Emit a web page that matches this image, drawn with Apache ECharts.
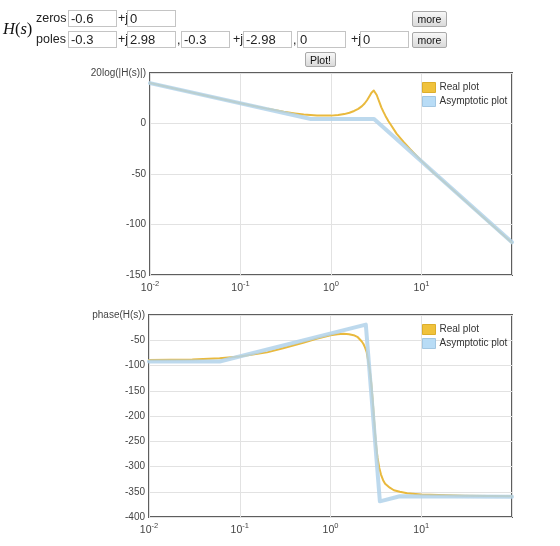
<!DOCTYPE html>
<html><head><meta charset="utf-8">
<script src="https://cdn.jsdelivr.net/npm/echarts@6/dist/echarts.min.js"></script>
<style>
html,body{margin:0;padding:0;background:#fff;width:560px;height:546px;overflow:hidden;font-family:"Liberation Sans",Arial,sans-serif;}
#c{position:absolute;left:0;top:0;width:560px;height:546px;}
.f{position:absolute;z-index:2;}
.lbl{font-size:12.5px;color:#222;line-height:14px;white-space:nowrap;}
input.f{box-sizing:border-box;height:17px;width:49px;border:1px solid #c4c4c4;padding:0 2px;font:13px "Liberation Sans",Arial,sans-serif;color:#222;background:#fff;margin:0;outline:none;}
button.f{box-sizing:border-box;height:16px;border:1px solid #a8a8a8;border-radius:2px;background:linear-gradient(#f7f7f7,#dadada);font:10.5px "Liberation Sans",Arial,sans-serif;color:#111;padding:0;margin:0;}
.hs{font-family:"Liberation Serif","DejaVu Serif",serif;font-size:16.5px;color:#111;line-height:18px;}
</style></head>
<body>
<div class="f hs" style="left:3px;top:20px;"><i>H</i>(<i>s</i>)</div>
<div class="f lbl" style="left:36px;top:11px;">zeros</div>
<div class="f lbl" style="left:36px;top:32px;">poles</div>
<input class="f" style="left:68px;top:10px;" value="-0.6">
<div class="f lbl" style="left:118px;top:11px;">+j</div>
<input class="f" style="left:127px;top:10px;" value="0">
<button class="f" style="left:412px;top:11px;width:35px;">more</button>
<input class="f" style="left:68px;top:31px;" value="-0.3">
<div class="f lbl" style="left:118px;top:32px;">+j</div>
<input class="f" style="left:127px;top:31px;" value="2.98">
<div class="f lbl" style="left:177px;top:33px;">,</div>
<input class="f" style="left:181px;top:31px;" value="-0.3">
<div class="f lbl" style="left:233px;top:32px;">+j</div>
<input class="f" style="left:243px;top:31px;" value="-2.98">
<div class="f lbl" style="left:293px;top:33px;">,</div>
<input class="f" style="left:297px;top:31px;" value="0">
<div class="f lbl" style="left:351px;top:32px;">+j</div>
<input class="f" style="left:360px;top:31px;" value="0">
<button class="f" style="left:412px;top:32px;width:35px;">more</button>
<button class="f" style="left:305px;top:52px;width:31px;height:15px;">Plot!</button>
<div id="c"></div>
<script>
// ---- data ----
const seriesNames = ['Real plot', 'Asymptotic plot'];
const magTitle = '20log(|H(s)|)';
const phaseTitle = 'phase(H(s))';
const xTickExponents = [-2, -1, 0, 1];

const magRealFreq = [0.01,0.03,0.1,0.2,0.3,0.4,0.5,0.7,1,1.2,1.4,1.6,1.8,2.0,2.2,2.35,2.5,2.6,2.7,2.8,2.9,2.97,3.05,3.1,3.2,3.3,3.45,3.6,3.8,4.0,4.3,4.6,5.3,6.3,7.5,10,13.5,20,50,100];
const magRealDb   = [40,30.5,20.1,14.5,11.6,10,8.8,7.8,7.8,8.4,9.3,10.7,12.4,14.5,17.2,19.8,23,25.5,28,30.5,32.2,32.7,32,31,28.2,25,20.5,16,11.5,7.5,2.5,-1.5,-10,-18,-25.5,-37,-48.5,-62,-94,-118];
const magAsymFreq = [0.01,0.6,2.99,100];
const magAsymDb   = [40,4.4,4.4,-117.6];

const phRealFreq = [0.01,0.03,0.06,0.1,0.2,0.3,0.5,0.7,1,1.2,1.4,1.6,1.8,2.0,2.1,2.2,2.3,2.4,2.5,2.6,2.7,2.8,2.9,2.95,3.0,3.05,3.1,3.2,3.3,3.45,3.6,3.8,4.0,4.5,5,5.8,7,10,30,100];
const phRealDeg  = [-89,-88,-85.5,-82,-74,-66,-55,-47,-40,-38,-37,-38,-40,-44,-47.5,-52,-57,-64,-73,-90,-108,-132,-164,-182,-200,-218,-236,-263,-283,-303,-316,-327,-334,-342,-347,-350,-353,-355.5,-358,-359];
const phAsymFreq = [0.01,0.06,2.45,3.5,5.8,100];
const phAsymDeg  = [-92,-92,-19,-369,-359,-360];

const zip = (a, b) => a.map((v, i) => [v, b[i]]);

const YELLOW = '#e9b93d';
const BLUE = '#b2d2ea';
const labelColor = '#444';
const font = '"Liberation Sans", Arial, sans-serif';

function xAxis(gi) {
  return {
    type: 'log', logBase: 10, gridIndex: gi, min: 0.01, max: 100,
    axisLine: { show: false }, axisTick: { show: false },
    splitLine: { show: true, lineStyle: { color: '#e2e2e2', width: 1 } },
    minorTick: { show: false }, minorSplitLine: { show: false },
    axisLabel: {
      margin: 5, color: labelColor, fontFamily: font,
      formatter: v => {
        const e = Math.round(Math.log10(v));
        return xTickExponents.includes(e) ? '{b|10}{s|' + e + '}' : '';
      },
      rich: {
        b: { fontSize: 10.5, color: labelColor, fontFamily: font, lineHeight: 14, verticalAlign: 'bottom' },
        s: { fontSize: 7.5, color: labelColor, fontFamily: font, lineHeight: 9, verticalAlign: 'top' }
      }
    }
  };
}
function yAxis(gi, min, max, title) {
  return {
    type: 'value', gridIndex: gi, min: min, max: max, interval: 50,
    axisLine: { show: false }, axisTick: { show: false },
    splitLine: { show: true, lineStyle: { color: '#e2e2e2', width: 1 } },
    axisLabel: {
      margin: 4, color: labelColor, fontSize: 10, fontFamily: font,
      showMaxLabel: true, showMinLabel: true,
      formatter: v => v === max ? title : String(v)
    }
  };
}
function legend(top) {
  return {
    orient: 'vertical', left: 422, top: top, padding: 0, itemGap: 3,
    itemWidth: 13, itemHeight: 10, icon: 'rect',
    textStyle: { fontSize: 10, color: '#333', fontFamily: font, padding: [0, 0, 0, -1] },
    data: [
      { name: seriesNames[0], itemStyle: { color: '#f0c23c', borderColor: '#dcae2c', borderWidth: 1 } },
      { name: seriesNames[1], itemStyle: { color: '#b8dcf6', borderColor: '#a3c7e2', borderWidth: 1 } }
    ]
  };
}
function line(name, gi, data, color, width, opacity) {
  return {
    name: name, type: 'line', xAxisIndex: gi, yAxisIndex: gi, data: data,
    showSymbol: false, symbol: 'none', smooth: false,
    lineStyle: { color: color, width: width, opacity: opacity, join: 'round', cap: 'round' },
    itemStyle: { color: color }, emphasis: { disabled: true }
  };
}

const chart = echarts.init(document.getElementById('c'), null, { renderer: 'canvas' });
chart.setOption({
  animation: false,
  textStyle: { fontFamily: font },
  grid: [
    { left: 150, top: 73, width: 362, height: 202, show: true, borderColor: '#5e5e5e', borderWidth: 2, backgroundColor: 'transparent' },
    { left: 149, top: 315, width: 363, height: 202, show: true, borderColor: '#5e5e5e', borderWidth: 2, backgroundColor: 'transparent' }
  ],
  xAxis: [xAxis(0), xAxis(1)],
  yAxis: [yAxis(0, -150, 50, magTitle), yAxis(1, -400, 0, phaseTitle)],
  legend: [legend(82), legend(324)],
  series: [
    line(seriesNames[0], 0, zip(magRealFreq, magRealDb), YELLOW, 2, 1),
    line(seriesNames[1], 0, zip(magAsymFreq, magAsymDb), BLUE, 4, 0.85),
    line(seriesNames[0], 1, zip(phRealFreq, phRealDeg), YELLOW, 2, 1),
    line(seriesNames[1], 1, zip(phAsymFreq, phAsymDeg), BLUE, 4, 0.85)
  ]
});
</script>
</body></html>
